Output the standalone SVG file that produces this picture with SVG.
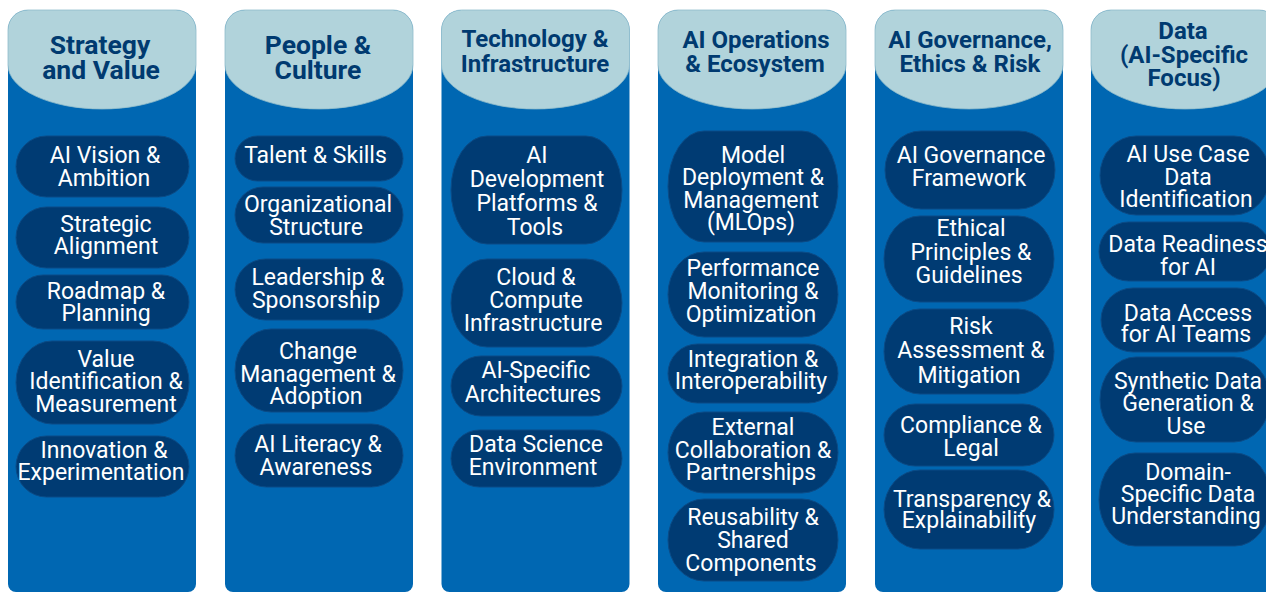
<svg xmlns="http://www.w3.org/2000/svg" width="1266" height="593" viewBox="0 0 1266 593">
<style>
.col{fill:#0067B2}
.hdr{fill:#B1D3DB;stroke:#8FBCCB;stroke-width:0.8}
.pill{fill:#003B73;stroke:#0B4B86;stroke-width:1}
.ht{font-family:Roboto,"Liberation Sans",sans-serif;font-weight:700;fill:#003A70;text-anchor:middle}
.h1{font-size:26.5px}
.h2{font-size:24px}
.pt{font-family:Roboto,"Liberation Sans",sans-serif;font-size:23px;fill:#FFFFFF;text-anchor:middle}
</style>
<rect width="1266" height="593" fill="#FFFFFF"/>
<g id="connectors"></g>

<g id="col-strategy">
<path class="col" d="M8,30 A20,20 0 0 1 28,10 H176 A20,20 0 0 1 196,30 V584 A8,8 0 0 1 188,592 H16 A8,8 0 0 1 8,584 Z"/>
<path class="hdr" d="M8,65 V30 A20,20 0 0 1 28,10 H176 A20,20 0 0 1 196,30 V65 A94,44 0 0 1 8,65 Z"/>
<text class="ht h1" x="100" y="54.3">Strategy</text>
<text class="ht h1" x="101" y="79.3">and Value</text>
</g>
<g id="n-ai-vision"><rect class="pill" x="16" y="136" width="173" height="61" rx="30.5" ry="30.5"/><text class="pt"><tspan x="105" y="163.3">AI Vision &amp;</tspan><tspan x="104" y="185.5">Ambition</tspan></text></g>
<g id="n-strategic-alignment"><rect class="pill" x="16" y="207" width="173" height="61" rx="30.5" ry="30.5"/><text class="pt"><tspan x="106" y="231.5">Strategic</tspan><tspan x="106" y="254">Alignment</tspan></text></g>
<g id="n-roadmap"><rect class="pill" x="16" y="275" width="173" height="54" rx="27" ry="27"/><text class="pt"><tspan x="106" y="298.5">Roadmap &amp;</tspan><tspan x="106" y="321">Planning</tspan></text></g>
<g id="n-value"><rect class="pill" x="16" y="341" width="173" height="83" rx="36" ry="41.5"/><text class="pt"><tspan x="106" y="367">Value</tspan><tspan x="106" y="389">Identification &amp;</tspan><tspan x="106" y="411.5">Measurement</tspan></text></g>
<g id="n-innovation"><rect class="pill" x="16" y="436" width="173" height="61" rx="30.5" ry="30.5"/><text class="pt"><tspan x="104" y="457.5">Innovation &amp;</tspan><tspan x="101" y="480">Experimentation</tspan></text></g>

<g id="col-people">
<path class="col" d="M225,30 A20,20 0 0 1 245,10 H393 A20,20 0 0 1 413,30 V584 A8,8 0 0 1 405,592 H233 A8,8 0 0 1 225,584 Z"/>
<path class="hdr" d="M225,65 V30 A20,20 0 0 1 245,10 H393 A20,20 0 0 1 413,30 V65 A94,44 0 0 1 225,65 Z"/>
<text class="ht h1" x="318" y="53.5">People &amp;</text>
<text class="ht h1" x="318" y="79.3">Culture</text>
</g>
<g id="n-talent"><rect class="pill" x="235" y="136" width="168" height="45" rx="22.5" ry="22.5"/><text class="pt"><tspan x="315.5" y="163">Talent &amp; Skills</tspan></text></g>
<g id="n-org-structure"><rect class="pill" x="235" y="187" width="168" height="56" rx="28" ry="28"/><text class="pt"><tspan x="318" y="211.7">Organizational</tspan><tspan x="316" y="234.5">Structure</tspan></text></g>
<g id="n-leadership"><rect class="pill" x="235" y="259" width="168" height="61" rx="30.5" ry="30.5"/><text class="pt"><tspan x="318" y="285">Leadership &amp;</tspan><tspan x="316" y="308">Sponsorship</tspan></text></g>
<g id="n-change"><rect class="pill" x="235" y="329" width="168" height="83" rx="36" ry="41.5"/><text class="pt"><tspan x="318" y="359">Change</tspan><tspan x="318" y="381.5">Management &amp;</tspan><tspan x="316" y="404">Adoption</tspan></text></g>
<g id="n-ai-literacy"><rect class="pill" x="235" y="424" width="168" height="63" rx="31.5" ry="31.5"/><text class="pt"><tspan x="318" y="452">AI Literacy &amp;</tspan><tspan x="316" y="475">Awareness</tspan></text></g>

<g id="col-technology">
<path class="col" d="M441.5,30 A20,20 0 0 1 461.5,10 H609.5 A20,20 0 0 1 629.5,30 V584 A8,8 0 0 1 621.5,592 H449.5 A8,8 0 0 1 441.5,584 Z"/>
<path class="hdr" d="M441.5,65 V30 A20,20 0 0 1 461.5,10 H609.5 A20,20 0 0 1 629.5,30 V65 A94,44 0 0 1 441.5,65 Z"/>
<text class="ht h2" x="535" y="47">Technology &amp;</text>
<text class="ht h2" x="535" y="71.7">Infrastructure</text>
</g>
<g id="n-ai-dev"><rect class="pill" x="451" y="136" width="171" height="108" rx="36" ry="54"/><text class="pt"><tspan x="537" y="163.3">AI</tspan><tspan x="537" y="186.5">Development</tspan><tspan x="537" y="211">Platforms &amp;</tspan><tspan x="535" y="235">Tools</tspan></text></g>
<g id="n-cloud"><rect class="pill" x="451" y="259" width="171" height="88" rx="36" ry="44"/><text class="pt"><tspan x="536" y="285">Cloud &amp;</tspan><tspan x="536" y="308">Compute</tspan><tspan x="533" y="330.5">Infrastructure</tspan></text></g>
<g id="n-ai-arch"><rect class="pill" x="451" y="356" width="171" height="60" rx="30" ry="30"/><text class="pt"><tspan x="536" y="378">AI-Specific</tspan><tspan x="533" y="402">Architectures</tspan></text></g>
<g id="n-ds-env"><rect class="pill" x="451" y="430" width="171" height="57" rx="28.5" ry="28.5"/><text class="pt"><tspan x="536" y="452">Data Science</tspan><tspan x="533" y="475">Environment</tspan></text></g>

<g id="col-operations">
<path class="col" d="M658,30 A20,20 0 0 1 678,10 H826 A20,20 0 0 1 846,30 V584 A8,8 0 0 1 838,592 H666 A8,8 0 0 1 658,584 Z"/>
<path class="hdr" d="M658,65 V30 A20,20 0 0 1 678,10 H826 A20,20 0 0 1 846,30 V65 A94,44 0 0 1 658,65 Z"/>
<text class="ht h2" x="756" y="47.7">AI Operations</text>
<text class="ht h2" x="755" y="71.7">&amp; Ecosystem</text>
</g>
<g id="n-model-deploy"><rect class="pill" x="668" y="131" width="170" height="111" rx="36" ry="55.5"/><text class="pt"><tspan x="753" y="163">Model</tspan><tspan x="753" y="185.3">Deployment &amp;</tspan><tspan x="751" y="207.5">Management</tspan><tspan x="751" y="230">(MLOps)</tspan></text></g>
<g id="n-performance"><rect class="pill" x="668" y="252" width="170" height="85" rx="36" ry="42.5"/><text class="pt"><tspan x="753" y="276">Performance</tspan><tspan x="753" y="299">Monitoring &amp;</tspan><tspan x="751" y="321.5">Optimization</tspan></text></g>
<g id="n-integration"><rect class="pill" x="668" y="344" width="170" height="59" rx="29.5" ry="29.5"/><text class="pt"><tspan x="753" y="366.7">Integration &amp;</tspan><tspan x="751" y="389">Interoperability</tspan></text></g>
<g id="n-external"><rect class="pill" x="668" y="412" width="170" height="81" rx="36" ry="40.5"/><text class="pt"><tspan x="753" y="435">External</tspan><tspan x="753" y="457.7">Collaboration &amp;</tspan><tspan x="751" y="480">Partnerships</tspan></text></g>
<g id="n-reusability"><rect class="pill" x="668" y="499" width="170" height="82" rx="36" ry="41"/><text class="pt"><tspan x="753" y="525">Reusability &amp;</tspan><tspan x="753" y="547.5">Shared</tspan><tspan x="751" y="571">Components</tspan></text></g>

<g id="col-governance">
<path class="col" d="M875,30 A20,20 0 0 1 895,10 H1043 A20,20 0 0 1 1063,30 V584 A8,8 0 0 1 1055,592 H883 A8,8 0 0 1 875,584 Z"/>
<path class="hdr" d="M875,65 V30 A20,20 0 0 1 895,10 H1043 A20,20 0 0 1 1063,30 V65 A94,44 0 0 1 875,65 Z"/>
<text class="ht h2" x="970" y="47.7">AI Governance,</text>
<text class="ht h2" x="970" y="71.7">Ethics &amp; Risk</text>
</g>
<g id="n-gov-framework"><rect class="pill" x="885" y="131" width="170" height="78" rx="36" ry="39"/><text class="pt"><tspan x="971" y="162.5">AI Governance</tspan><tspan x="969" y="185.5">Framework</tspan></text></g>
<g id="n-ethical"><rect class="pill" x="884" y="216" width="170" height="86" rx="36" ry="43"/><text class="pt"><tspan x="971" y="235.7">Ethical</tspan><tspan x="971" y="260">Principles &amp;</tspan><tspan x="969" y="283.3">Guidelines</tspan></text></g>
<g id="n-risk"><rect class="pill" x="884" y="309" width="170" height="85" rx="36" ry="42.5"/><text class="pt"><tspan x="971" y="334">Risk</tspan><tspan x="971" y="358.3">Assessment &amp;</tspan><tspan x="969" y="383">Mitigation</tspan></text></g>
<g id="n-compliance"><rect class="pill" x="884" y="404" width="170" height="62" rx="31" ry="31"/><text class="pt"><tspan x="971" y="432.7">Compliance &amp;</tspan><tspan x="971" y="455.7">Legal</tspan></text></g>
<g id="n-transparency"><rect class="pill" x="884" y="470" width="170" height="79" rx="36" ry="39.5"/><text class="pt"><tspan x="972" y="506.7">Transparency &amp;</tspan><tspan x="969" y="528.3">Explainability</tspan></text></g>

<g id="col-data">
<path class="col" d="M1091,30 A20,20 0 0 1 1111,10 H1259 A20,20 0 0 1 1279,30 V584 A8,8 0 0 1 1271,592 H1099 A8,8 0 0 1 1091,584 Z"/>
<path class="hdr" d="M1091,65 V30 A20,20 0 0 1 1111,10 H1259 A20,20 0 0 1 1279,30 V65 A94,44 0 0 1 1091,65 Z"/>
<text class="ht h2" x="1183" y="39">Data</text>
<text class="ht h2" x="1184" y="62.7">(AI-Specific</text>
<text class="ht h2" x="1184" y="86">Focus)</text>
</g>
<g id="n-use-case"><rect class="pill" x="1100" y="136" width="170" height="79" rx="36" ry="39.5"/><text class="pt"><tspan x="1188" y="162.3">AI Use Case</tspan><tspan x="1188" y="185">Data</tspan><tspan x="1186" y="207.3">Identification</tspan></text></g>
<g id="n-readiness"><rect class="pill" x="1099" y="222" width="172" height="59" rx="29.5" ry="29.5"/><text class="pt"><tspan x="1188" y="252.3">Data Readiness</tspan><tspan x="1188" y="275">for AI</tspan></text></g>
<g id="n-access"><rect class="pill" x="1101" y="288" width="168" height="64" rx="32" ry="32"/><text class="pt"><tspan x="1188" y="321">Data Access</tspan><tspan x="1186" y="341.7">for AI Teams</tspan></text></g>
<g id="n-synthetic"><rect class="pill" x="1100" y="357" width="170" height="85" rx="36" ry="42.5"/><text class="pt"><tspan x="1188" y="389">Synthetic Data</tspan><tspan x="1188" y="410.7">Generation &amp;</tspan><tspan x="1186" y="434">Use</tspan></text></g>
<g id="n-domain"><rect class="pill" x="1099" y="453" width="172" height="93" rx="36" ry="46.5"/><text class="pt"><tspan x="1188" y="480">Domain-</tspan><tspan x="1188" y="502.3">Specific Data</tspan><tspan x="1186" y="524">Understanding</tspan></text></g>
</svg>
